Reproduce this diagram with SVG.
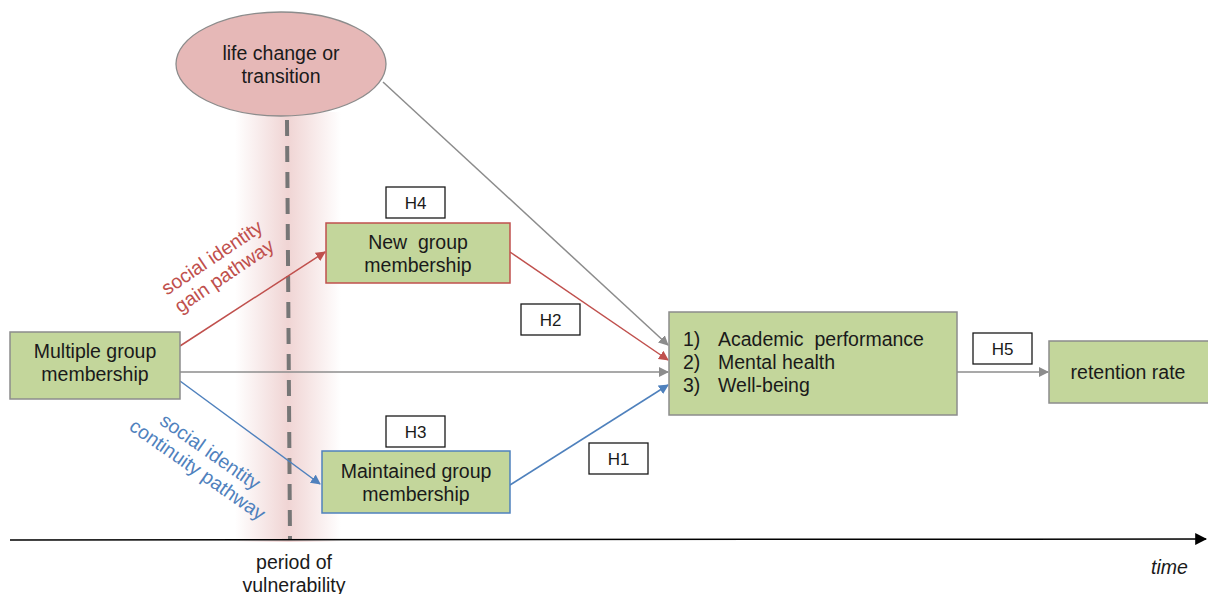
<svg xmlns="http://www.w3.org/2000/svg" width="1208" height="594" viewBox="0 0 1208 594">
  <style>
    text { font-family: "Liberation Sans", Arial, sans-serif; font-size: 19.5px; fill: #1a1a1a; }
    .box { fill: #c3d69b; stroke: #8c8c8c; stroke-width: 1.5; }
    .tag { fill: #ffffff; stroke: #1a1a1a; stroke-width: 1.3; }
    .tagtxt { font-size: 17px; text-anchor: middle; }
    .mid { text-anchor: middle; }
    .gray { stroke: #8c8c8c; stroke-width: 1.5; fill: none; }
    .red { stroke: #c0504d; stroke-width: 1.5; fill: none; }
    .blue { stroke: #4f81bd; stroke-width: 1.5; fill: none; }
  </style>
  <defs>
    <linearGradient id="band" x1="0" y1="0" x2="1" y2="0">
      <stop offset="0" stop-color="#e6b8b7" stop-opacity="0"/>
      <stop offset="0.5" stop-color="#e6b8b7" stop-opacity="0.6"/>
      <stop offset="1" stop-color="#e6b8b7" stop-opacity="0"/>
    </linearGradient>
    <marker id="ag" viewBox="0 0 10 10" refX="9" refY="5" markerWidth="10" markerHeight="10" markerUnits="userSpaceOnUse" orient="auto">
      <path d="M0,0 L10,5 L0,10 z" fill="#8c8c8c"/>
    </marker>
    <marker id="ar" viewBox="0 0 10 10" refX="9" refY="5" markerWidth="10" markerHeight="10" markerUnits="userSpaceOnUse" orient="auto">
      <path d="M0,0 L10,5 L0,10 z" fill="#c0504d"/>
    </marker>
    <marker id="ab" viewBox="0 0 10 10" refX="9" refY="5" markerWidth="10" markerHeight="10" markerUnits="userSpaceOnUse" orient="auto">
      <path d="M0,0 L10,5 L0,10 z" fill="#4f81bd"/>
    </marker>
    <marker id="ak" viewBox="0 0 10 10" refX="9" refY="5" markerWidth="12" markerHeight="12" markerUnits="userSpaceOnUse" orient="auto">
      <path d="M0,0 L10,5 L0,10 z" fill="#000000"/>
    </marker>
  </defs>

  <rect width="1208" height="594" fill="#ffffff"/>

  <!-- period of vulnerability band -->
  <rect x="235" y="112" width="106" height="430" fill="url(#band)"/>
  <line x1="287" y1="120" x2="290" y2="540" stroke="#767676" stroke-width="4" stroke-dasharray="16,10"/>

  <!-- time axis -->
  <line x1="10" y1="540" x2="1206" y2="539" stroke="#000000" stroke-width="1.5" marker-end="url(#ak)"/>

  <g id="connectors">
    <line class="gray" x1="383" y1="82" x2="668" y2="345" marker-end="url(#ag)"/>
    <line class="red" x1="180" y1="346" x2="325" y2="252" marker-end="url(#ar)"/>
    <line class="red" x1="510" y1="252" x2="668" y2="360" marker-end="url(#ar)"/>
    <line class="gray" x1="180" y1="372" x2="668" y2="372" marker-end="url(#ag)"/>
    <line class="blue" x1="180" y1="381" x2="320" y2="484" marker-end="url(#ab)"/>
    <line class="blue" x1="510" y1="485" x2="668" y2="385" marker-end="url(#ab)"/>
    <line class="gray" x1="957" y1="372" x2="1048" y2="372" marker-end="url(#ag)"/>
  </g>

  <g id="life-change">
    <ellipse cx="281" cy="64" rx="105" ry="52" fill="#e6b8b7" stroke="#8c8c8c" stroke-width="1.3"/>
    <text class="mid" x="281" y="60">life change or</text>
    <text class="mid" x="281" y="83">transition</text>
  </g>

  <g id="multiple-group">
    <rect class="box" x="10" y="332" width="170" height="67"/>
    <text class="mid" x="95" y="358">Multiple group</text>
    <text class="mid" x="95" y="381">membership</text>
  </g>

  <g id="new-group">
    <rect class="box" x="326" y="223" width="184" height="60" style="stroke:#c0504d"/>
    <text class="mid" x="418" y="249">New&#160; group</text>
    <text class="mid" x="418" y="272">membership</text>
  </g>

  <g id="maintained-group">
    <rect class="box" x="322" y="451" width="188" height="62" style="stroke:#4f81bd"/>
    <text class="mid" x="416" y="478">Maintained group</text>
    <text class="mid" x="416" y="501">membership</text>
  </g>

  <g id="outcomes">
    <rect class="box" x="669" y="312" width="288" height="103"/>
    <text x="683" y="346">1)</text><text x="718" y="346">Academic&#160; performance</text>
    <text x="683" y="369">2)</text><text x="718" y="369">Mental health</text>
    <text x="683" y="392">3)</text><text x="718" y="392">Well-being</text>
  </g>

  <g id="retention">
    <rect class="box" x="1049" y="341" width="160" height="62"/>
    <text class="mid" x="1128" y="379">retention rate</text>
  </g>

  <g id="h4"><rect class="tag" x="386" y="187" width="59" height="31"/><text class="tagtxt" x="415.5" y="209">H4</text></g>
  <g id="h2"><rect class="tag" x="521" y="304" width="59" height="31"/><text class="tagtxt" x="550.5" y="326">H2</text></g>
  <g id="h3"><rect class="tag" x="386" y="416" width="59" height="31"/><text class="tagtxt" x="415.5" y="438">H3</text></g>
  <g id="h1"><rect class="tag" x="589" y="443" width="59" height="31"/><text class="tagtxt" x="618.5" y="465">H1</text></g>
  <g id="h5"><rect class="tag" x="973" y="333" width="59" height="31"/><text class="tagtxt" x="1002.5" y="355">H5</text></g>

  <!-- pathway labels -->
  <g id="gain-label" transform="translate(219,268) rotate(-34)">
    <text class="mid" x="0" y="-6" style="fill:#c0504d">social identity</text>
    <text class="mid" x="0" y="16" style="fill:#c0504d">gain pathway</text>
  </g>
  <g id="continuity-label" transform="translate(203,462) rotate(35)">
    <text class="mid" x="0" y="-6" style="fill:#4f81bd">social identity</text>
    <text class="mid" x="0" y="16" style="fill:#4f81bd">continuity pathway</text>
  </g>

  <text class="mid" x="294" y="569">period of</text>
  <text class="mid" x="294" y="592">vulnerability</text>
  <text x="1151" y="574" style="font-style:italic">time</text>
</svg>
